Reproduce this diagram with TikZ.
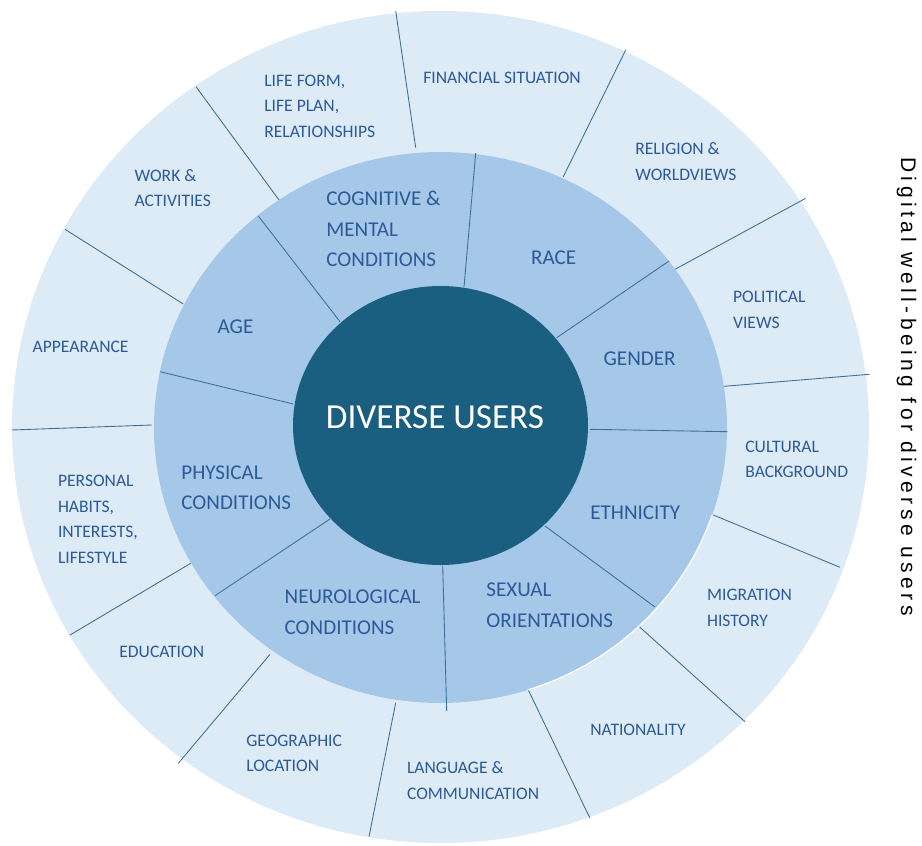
\documentclass[tikz,border=0pt]{standalone}
\usepackage{fontspec}
\setmainfont{Carlito}
\newfontfamily\sidefont[LetterSpace=21]{Liberation Sans}
\definecolor{ringlight}{RGB}{221,235,247}
\definecolor{ringmid}{RGB}{166,200,232}
\definecolor{coreblue}{RGB}{27,95,128}
\definecolor{labelblue}{RGB}{44,90,152}
\definecolor{spokeblue}{RGB}{62,112,150}
\tikzset{
    outer ring/.style={fill=ringlight},
    middle ring/.style={fill=ringmid},
    core disc/.style={fill=coreblue},
    spoke/.style={spokeblue, line width=0.5pt},
    rim/.style={white, line width=0.7pt},
    outer label/.style={anchor=north west, inner sep=0pt, align=left, text=labelblue, font=\fontsize{10}{14.5}\selectfont},
    middle label/.style={outer label, font=\fontsize{12}{17.5}\selectfont},
    core label/.style={inner sep=0pt, text=white, font=\fontsize{20}{24}\selectfont},
    side title/.style={rotate=-90, anchor=base west, inner sep=0pt, font=\sidefont\fontsize{12}{14}\selectfont},
}

\begin{document}
\begin{tikzpicture}[x=0.02cm, y=-0.02cm]
        \useasboundingbox (0,0) rectangle (922,845);
        % rings
        \fill[outer ring] (440.5,427) ellipse [x radius=428.5, y radius=416];
        \draw[spoke] (395.7,11) -- (415.7,147.7);
        \draw[spoke] (625.7,50) -- (563.3,176.7);
        \draw[spoke] (805.7,198.3) -- (675,269.3);
        \draw[spoke] (869.3,374.3) -- (719.3,386.7);
        \draw[spoke] (840,567.3) -- (713.3,515);
        \draw[spoke] (745,721.7) -- (639.3,626.7);
        \draw[spoke] (590,818.3) -- (528.3,690);
        \draw[spoke] (369,836.7) -- (395.7,702.7);
        \draw[spoke] (178.3,763.3) -- (270,654.3);
        \draw[spoke] (70,635) -- (190.7,563.3);
        \draw[spoke] (11.7,430) -- (151.7,425);
        \draw[spoke] (65,229.3) -- (183.3,304);
        \draw[spoke] (196,86.7) -- (280.7,202.3);
        \fill[middle ring] (440.5,427.5) ellipse [x radius=286.5, y radius=275.5];
        \draw[rim] (440.5,427.5) ++(18.6:286.5 and 275.5)
            arc [start angle=18.6, end angle=72.3, x radius=286.5, y radius=275.5];
        \draw[spoke] (475.7,153) -- (464,287);
        \draw[spoke] (669,261) -- (556.7,337.7);
        \draw[spoke] (727.7,431.7) -- (590,429.3);
        \draw[spoke] (655,607) -- (545,526);
        \draw[spoke] (446.7,711) -- (442.7,565.7);
        \draw[spoke] (215,595.7) -- (330,519);
        \draw[spoke] (160,371.7) -- (293.3,404);
        \draw[spoke] (258.3,216) -- (340,321.7);
        \fill[core disc] (440.5,425.5) ellipse [x radius=147.5, y radius=139.5];
        % outer labels
        \node[outer label] (lifeform) at (264,74.5) {LIFE FORM,\\LIFE PLAN,\\RELATIONSHIPS};
        \node[outer label] (financial) at (423,72.2) {FINANCIAL SITUATION};
        \node[outer label] (religion) at (635,142.5) {RELIGION \&\\WORLDVIEWS};
        \node[outer label] (political) at (732.7,291.2) {POLITICAL\\VIEWS};
        \node[outer label] (cultural) at (745,440.5) {CULTURAL\\BACKGROUND};
        \node[outer label] (migration) at (706.7,588.8) {MIGRATION\\HISTORY};
        \node[outer label] (nationality) at (590,723.5) {NATIONALITY};
        \node[outer label] (language) at (406.7,761.2) {LANGUAGE \&\\COMMUNICATION};
        \node[outer label] (geographic) at (246,734.5) {GEOGRAPHIC\\LOCATION};
        \node[outer label] (education) at (119,645.5) {EDUCATION};
        \node[outer label] (habits) at (57.7,475.2) {PERSONAL\\HABITS,\\INTERESTS,\\LIFESTYLE};
        \node[outer label] (appearance) at (32.3,340.5) {APPEARANCE};
        \node[outer label] (work) at (134.3,168.8) {WORK \&\\ACTIVITIES};
        % middle labels
        \node[middle label] (cognitive) at (326,190.6) {COGNITIVE \&\\MENTAL\\CONDITIONS};
        \node[middle label] (race) at (530.7,250) {RACE};
        \node[middle label] (gender) at (603.3,351.6) {GENDER};
        \node[middle label] (ethnicity) at (590,505.6) {ETHNICITY};
        \node[middle label] (sexual) at (486,582.3) {SEXUAL\\ORIENTATIONS};
        \node[middle label] (neuro) at (284.3,589.3) {NEUROLOGICAL\\CONDITIONS};
        \node[middle label] (physical) at (181,465) {PHYSICAL\\CONDITIONS};
        \node[middle label] (age) at (217.3,319.3) {AGE};
        \node[core label] (users) at (435,417.3) {DIVERSE USERS};
        \node[side title] (title) at (901,157) {Digital well-being for diverse users};
    \end{tikzpicture}
\end{document}
